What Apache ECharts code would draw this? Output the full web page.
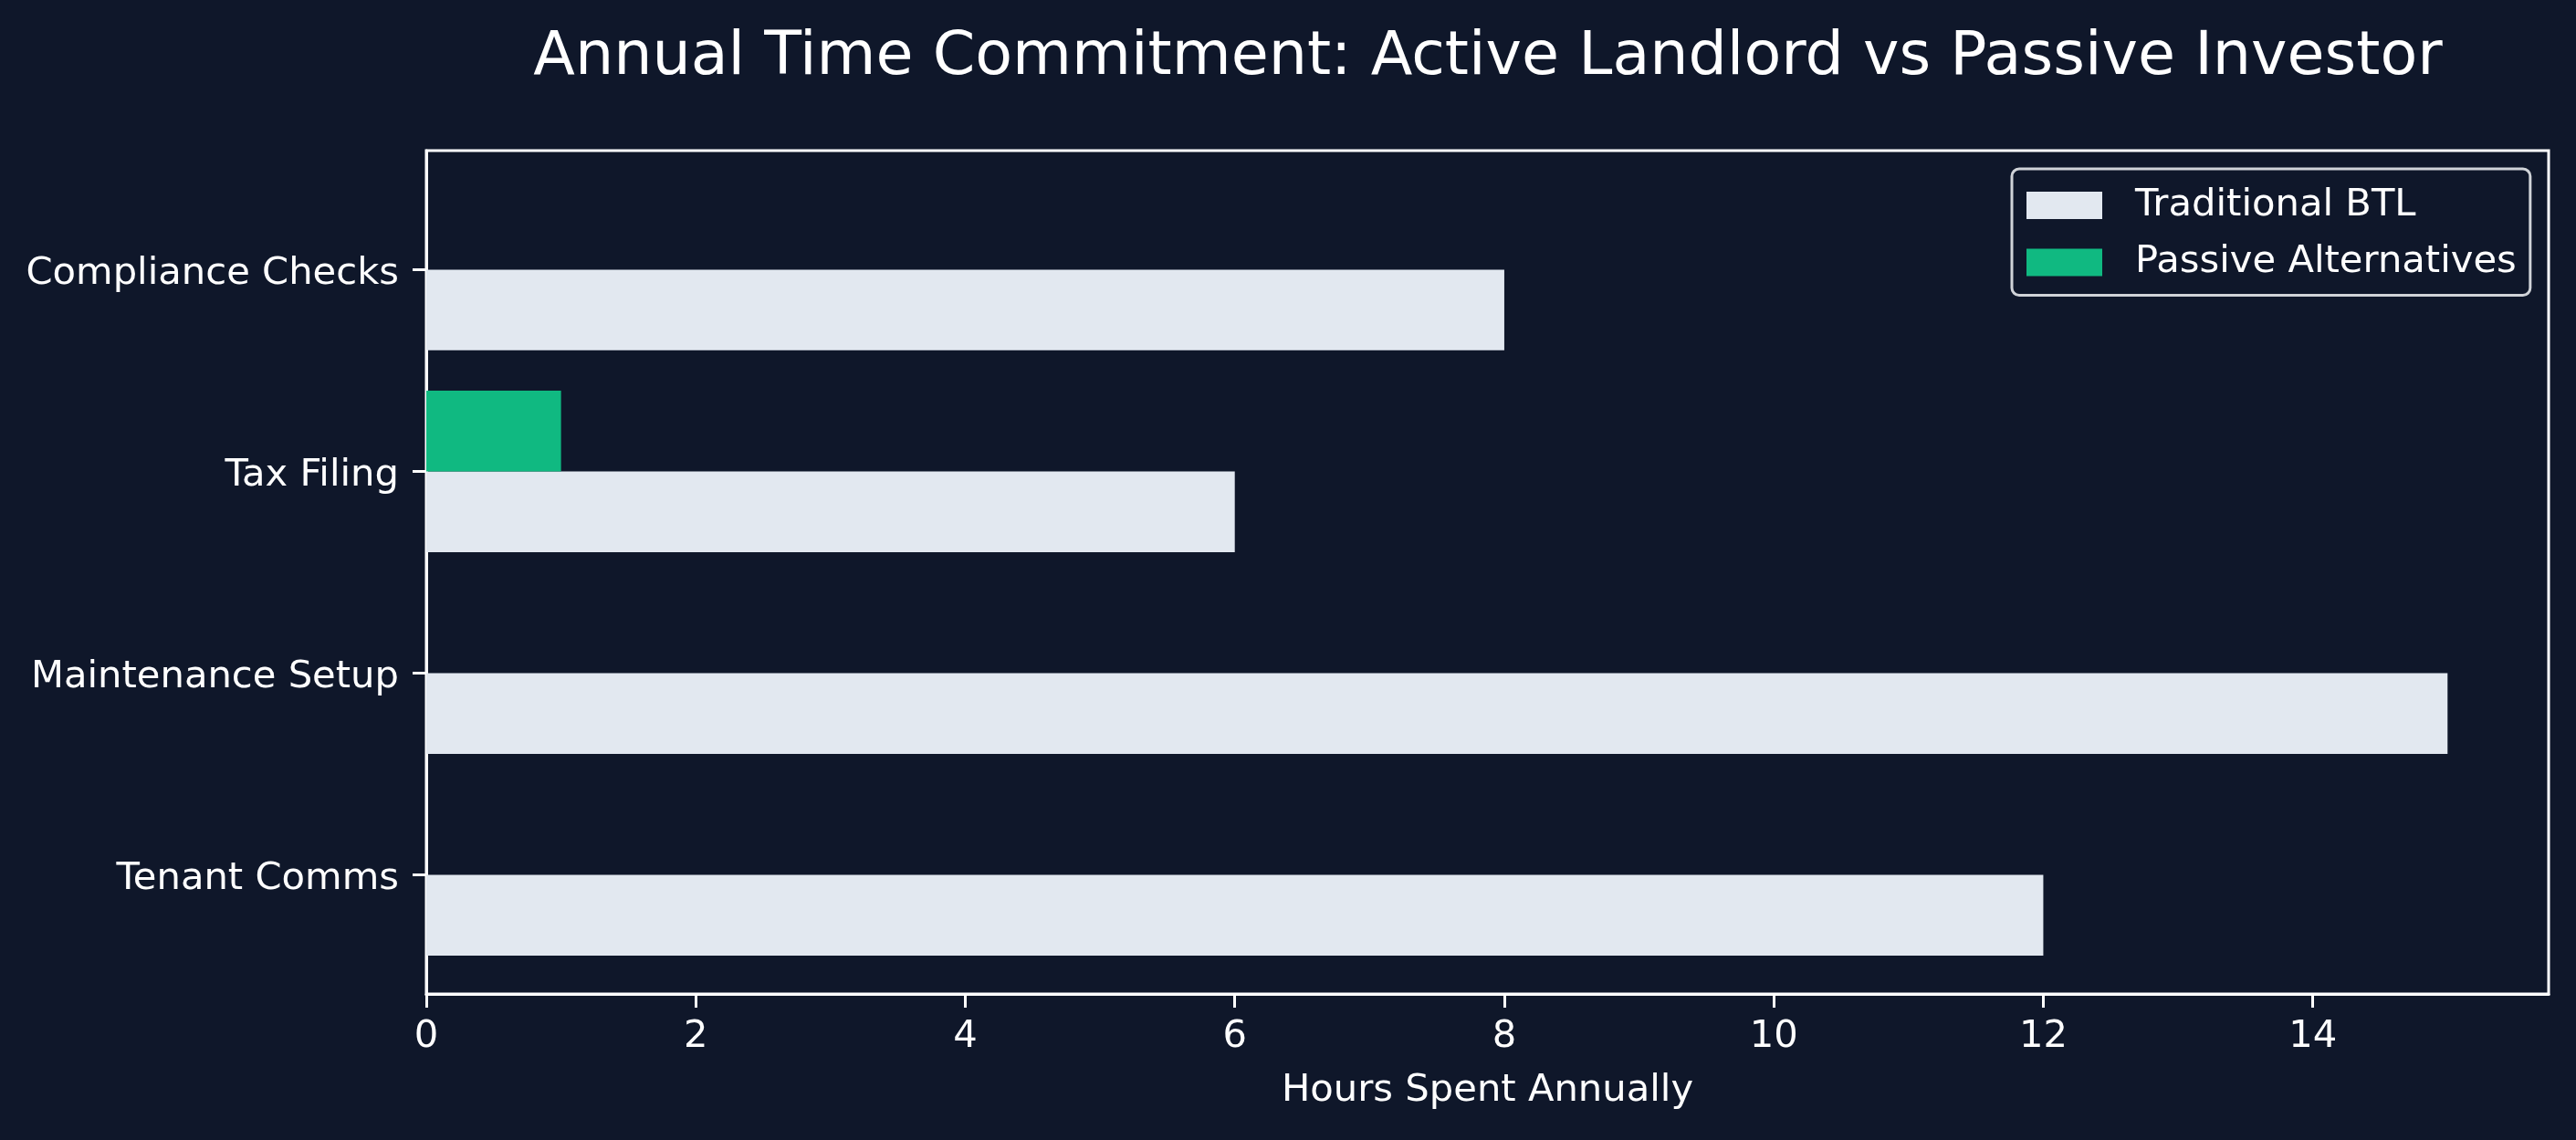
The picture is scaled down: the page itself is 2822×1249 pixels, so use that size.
<!DOCTYPE html>
<html><head><meta charset="utf-8">
<style>html,body{margin:0;padding:0;background:#0f172a;} #chart{width:2822px;height:1249px;}</style>
<script src="https://cdn.jsdelivr.net/npm/echarts@6/dist/echarts.min.js"></script>
</head><body><div id="chart"></div>
<script>
const categories = ['Tenant Comms', 'Maintenance Setup', 'Tax Filing', 'Compliance Checks'];
const traditionalBTL = [12, 15, 6, 8];
const passiveAlternatives = [0, 0, 1, 0];
const xTicks = [0, 2, 4, 6, 8, 10, 12, 14];
const yTicks = [0, 1, 2, 3];
const seriesNames = ['Traditional BTL', 'Passive Alternatives'];
const chartTitle = 'Annual Time Commitment: Active Landlord vs Passive Investor';
const xAxisTitle = 'Hours Spent Annually';

const FONT = 'DejaVu Sans';
const BAR = 0.4;
function makeRender(above) {
  return function (params, api) {
    const v = api.value(0), y = api.value(1);
    const yTop = above ? y + BAR : y;
    const yBot = above ? y : y - BAR;
    const p0 = api.coord([0, yTop]);
    const p1 = api.coord([v, yBot]);
    return {
      type: 'rect',
      shape: { x: p0[0], y: p0[1], width: p1[0] - p0[0], height: p1[1] - p0[1] },
      style: api.style()
    };
  };
}

const chart = echarts.init(document.getElementById('chart'), null, { renderer: 'canvas' });
chart.setOption({
  backgroundColor: '#0f172a',
  animation: false,
  title: {
    text: chartTitle,
    left: 1630, top: 30, textAlign: 'center', padding: 0,
    textStyle: { color: '#ffffff', fontFamily: FONT, fontSize: 66.7, fontWeight: 'normal' }
  },
  grid: {
    left: 467, right: 30, top: 165, bottom: 160,
    containLabel: false, outerBoundsMode: 'none',
    show: true, borderColor: '#ffffff', borderWidth: 3, backgroundColor: 'transparent'
  },
  legend: {
    orient: 'vertical', left: 2204, top: 185, align: 'left',
    icon: 'rect', itemWidth: 83, itemHeight: 30, itemGap: 20.5,
    padding: [19, 15, 15, 16],
    backgroundColor: '#0f172a', borderColor: '#d0d3d8', borderWidth: 3, borderRadius: 8,
    textStyle: { color: '#ffffff', fontFamily: FONT, fontSize: 41.7, lineHeight: 42, padding: [0, 0, 0, 31] },
    data: seriesNames
  },
  xAxis: {
    type: 'value', min: 0, max: 15.75,
    name: xAxisTitle, nameLocation: 'middle', nameGap: 85,
    nameTextStyle: { color: '#ffffff', fontFamily: FONT, fontSize: 41.7 },
    axisLine: { show: true, onZero: false, lineStyle: { color: '#ffffff', width: 3 } },
    axisTick: { show: true, length: 15, lineStyle: { color: '#ffffff', width: 3 }, customValues: xTicks },
    axisLabel: { color: '#ffffff', fontFamily: FONT, fontSize: 41.7, margin: 26, customValues: xTicks },
    splitLine: { show: false }
  },
  yAxis: {
    type: 'value', min: -0.59, max: 3.59,
    axisLine: { show: true, onZero: false, lineStyle: { color: '#ffffff', width: 3 } },
    axisTick: { show: true, length: 15, lineStyle: { color: '#ffffff', width: 3 }, customValues: yTicks },
    axisLabel: {
      color: '#ffffff', fontFamily: FONT, fontSize: 41.7, margin: 30, customValues: yTicks,
      verticalAlign: 'top', lineHeight: 10,
      formatter: function (v) { return categories[Math.round(v)] || ''; }
    },
    splitLine: { show: false }
  },
  series: [
    {
      name: seriesNames[0], type: 'custom', renderItem: makeRender(false),
      itemStyle: { color: '#e2e8f0' }, encode: { x: 0, y: 1 },
      data: traditionalBTL.map((v, i) => [v, i])
    },
    {
      name: seriesNames[1], type: 'custom', renderItem: makeRender(true),
      itemStyle: { color: '#10b981' }, encode: { x: 0, y: 1 },
      data: passiveAlternatives.map((v, i) => [v, i])
    }
  ]
});
</script>
</body></html>
